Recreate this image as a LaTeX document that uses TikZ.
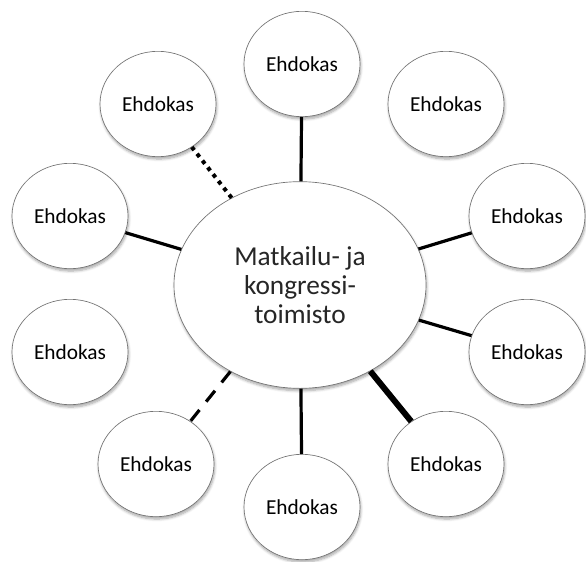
\documentclass[tikz,border=0pt]{standalone}
\usepackage{fontspec}
\setmainfont{Carlito}
\usetikzlibrary{shapes.geometric,shadows.blur}

\begin{document}
\begin{tikzpicture}[x=0.75pt,y=-0.75pt,line width=2.4pt,
		ehdokas/.style={ellipse,draw=black!55,line width=0.5pt,fill=white,minimum width=87pt,minimum height=79pt,inner sep=0pt,font=\fontsize{16}{18}\selectfont,blur shadow={shadow xshift=0.6pt,shadow yshift=-1.8pt,shadow blur steps=6,shadow opacity=35}},
		keskus/.style={ehdokas,minimum width=189pt,minimum height=155pt,align=center,font=\fontsize{20.5}{22}\selectfont,text=black!85}]
			\useasboundingbox (0,0) rectangle (586,561);
			\node[keskus] (toimisto) at (300,285) {Matkailu- ja\\kongressi-\\toimisto};
			\node[ehdokas] (e1) at (302,64) {Ehdokas};
			\node[ehdokas] (e2) at (446,104) {Ehdokas};
			\node[ehdokas] (e3) at (527,216) {Ehdokas};
			\node[ehdokas] (e4) at (527,352) {Ehdokas};
			\node[ehdokas] (e5) at (446,464) {Ehdokas};
			\node[ehdokas] (e6) at (302,507) {Ehdokas};
			\node[ehdokas] (e7) at (156,464) {Ehdokas};
			\node[ehdokas] (e8) at (70,352) {Ehdokas};
			\node[ehdokas] (e9) at (70,216) {Ehdokas};
			\node[ehdokas] (e10) at (158,104) {Ehdokas};
			\draw (toimisto)--(e1);
			\draw (toimisto)--(e3);
			\draw (toimisto)--(e4);
			\draw[line width=4.5pt] (toimisto)--(e5);
			\draw (toimisto)--(e6);
			\draw[dash pattern=on 10.5pt off 8pt] (toimisto)--(e7);
			\draw (toimisto)--(e9);
			\draw[line width=3pt,dash pattern=on 3pt off 3.5pt] (toimisto)--(e10);
		\end{tikzpicture}
\end{document}
